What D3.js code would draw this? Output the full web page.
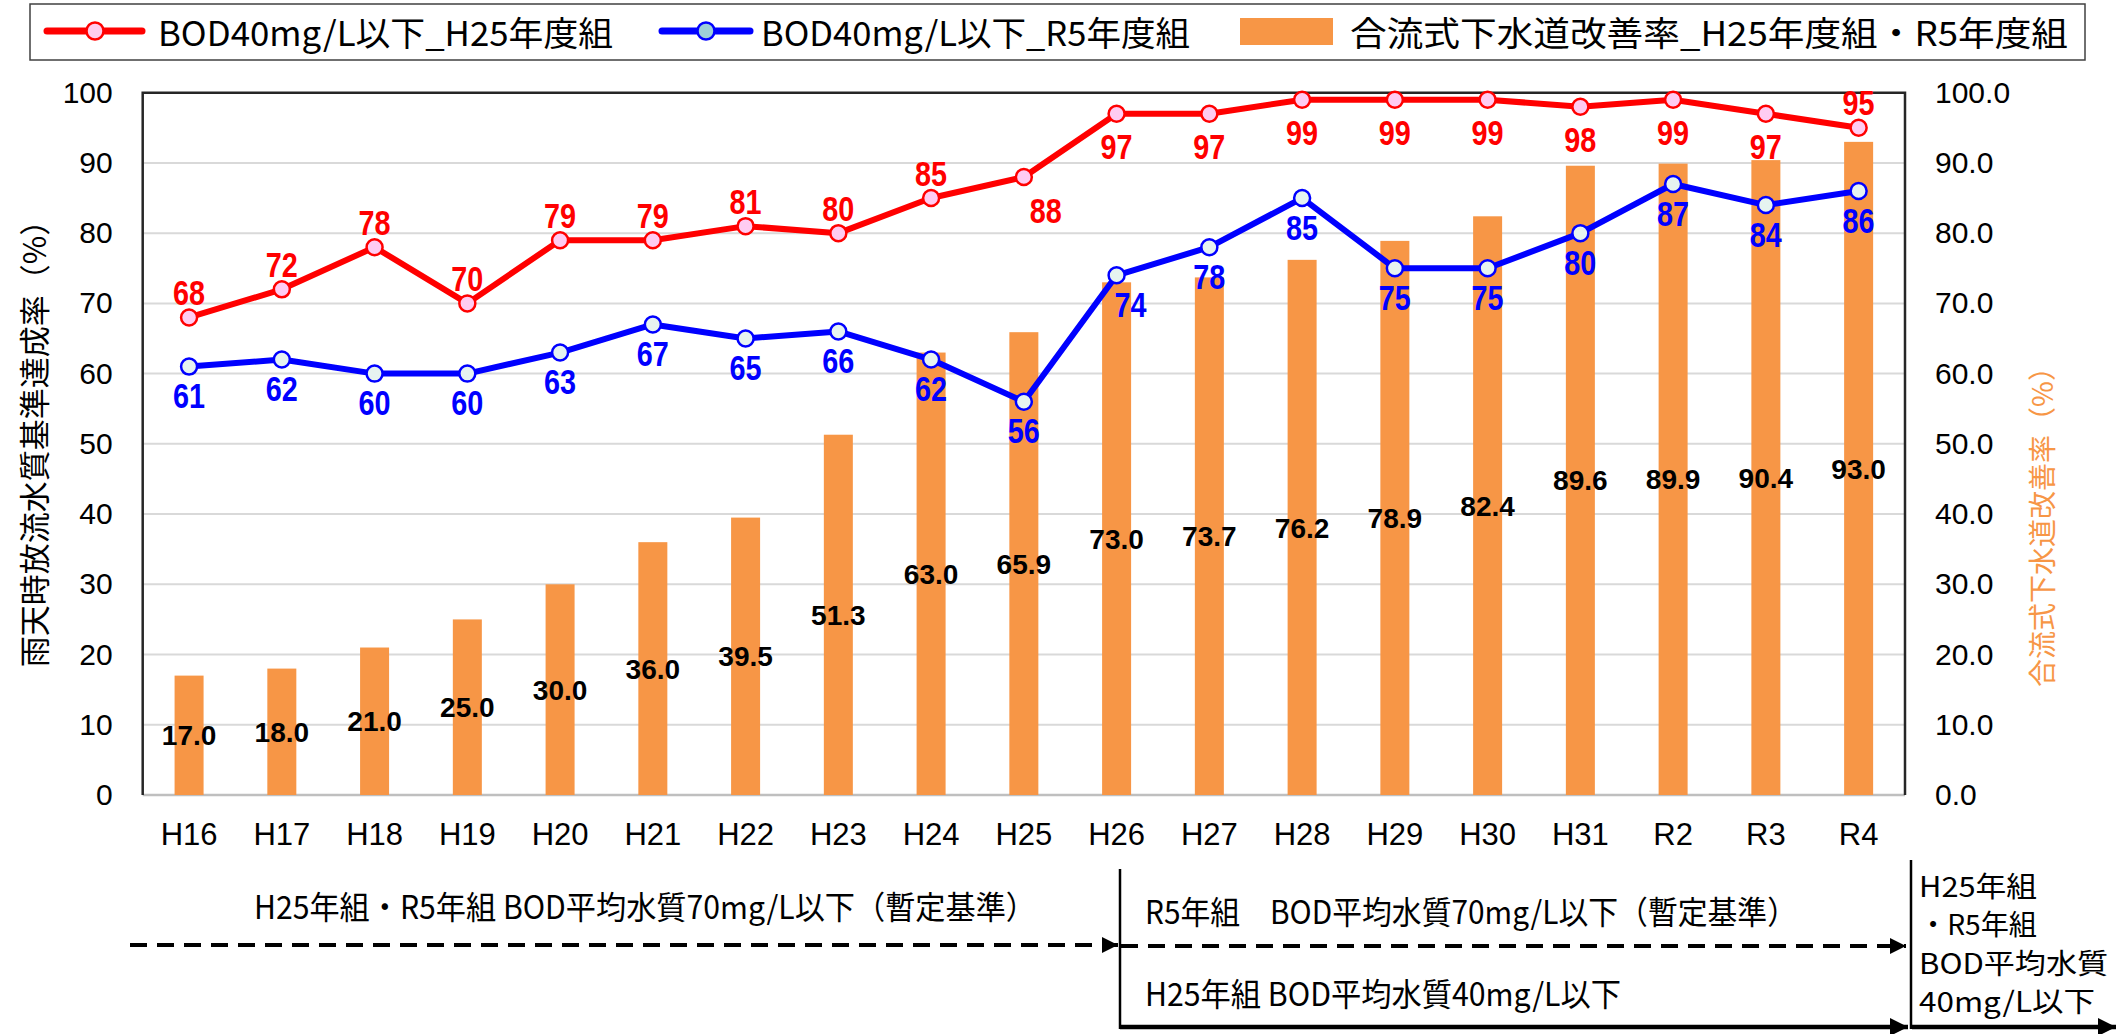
<!DOCTYPE html>
<html><head><meta charset="utf-8">
<script src="https://cdn.jsdelivr.net/npm/d3@7"></script>
<style>body{margin:0;background:#fff}svg{display:block}</style>
</head><body>
<svg id="c" width="2120" height="1034"></svg>
<script>
const categories = ["H16","H17","H18","H19","H20","H21","H22","H23","H24","H25","H26","H27","H28","H29","H30","H31","R2","R3","R4"];
const bodH25 = [68,72,78,70,79,79,81,80,85,88,97,97,99,99,99,98,99,97,95];
const bodR5  = [61,62,60,60,63,67,65,66,62,56,74,78,85,75,75,80,87,84,86];
const improveRate = [17.0,18.0,21.0,25.0,30.0,36.0,39.5,51.3,63.0,65.9,73.0,73.7,76.2,78.9,82.4,89.6,89.9,90.4,93.0];
// label placement: 1 = above, -1 = below
const h25LabelPos = [1,1,1,1,1,1,1,1,1,-1,-1,-1,-1,-1,-1,-1,-1,-1,1];
const leftTicks = [0,10,20,30,40,50,60,70,80,90,100];
const rightTicks = [0,10,20,30,40,50,60,70,80,90,100];
const legendLabels = ["BOD40mg/L以下_H25年度組","BOD40mg/L以下_R5年度組","合流式下水道改善率_H25年度組・R5年度組"];
const leftTitle = "雨天時放流水質基準達成率（%）";
const rightTitle = "合流式下水道改善率（%）";

const svg = d3.select("#c");
const L = 142.7, R = 1905, T = 92.7, B = 795;
const x = d3.scaleBand().domain(categories).range([L, R]);
const yL = d3.scaleLinear().domain([0,100]).range([B, T]);
const yR = d3.scaleLinear().domain([0,100]).range([B, T]);
const sans = "'Liberation Sans', Arial, sans-serif";
const cjk = "'Noto Sans CJK JP', sans-serif";
const ORANGE = "#f79646";

svg.append("rect").attr("width",2120).attr("height",1034).attr("fill","#fff");

// gridlines
svg.append("g").selectAll("line").data(leftTicks.filter(d=>d>0 && d<100)).join("line")
  .attr("x1",L).attr("x2",R).attr("y1",d=>yL(d)).attr("y2",d=>yL(d))
  .attr("stroke","#d9d9d9").attr("stroke-width",2);
svg.append("line").attr("x1",L).attr("x2",R).attr("y1",B).attr("y2",B).attr("stroke","#bfbfbf").attr("stroke-width",2.5);

// bars
const bw = 29;
svg.append("g").selectAll("rect").data(improveRate).join("rect")
  .attr("x",(d,i)=>x(categories[i]) + (x.bandwidth()-bw)/2)
  .attr("width",bw)
  .attr("y",d=>yR(d)).attr("height",d=>B-yR(d))
  .attr("fill",ORANGE);

// frame (top, left, right)
svg.append("path").attr("d",`M${L},${B}V${T}H${R}V${B}`).attr("fill","none").attr("stroke","#262626").attr("stroke-width",2.5);

// bar labels
svg.append("g").selectAll("text").data(improveRate).join("text")
  .attr("x",(d,i)=>x(categories[i])+x.bandwidth()/2)
  .attr("y",d=>yR(d/2)).attr("dy","0.36em")
  .attr("text-anchor","middle").attr("font-family",sans).attr("font-weight","bold")
  .attr("font-size",28).attr("fill","#000")
  .text(d=>d3.format(".1f")(d));

// lines
const cx = (d,i)=>x(categories[i])+x.bandwidth()/2;
function drawSeries(vals, color, fill){
  const line = d3.line().x((d,i)=>cx(d,i)).y(d=>yL(d));
  svg.append("path").datum(vals).attr("d",line).attr("fill","none").attr("stroke",color).attr("stroke-width",6).attr("stroke-linejoin","round");
  svg.append("g").selectAll("circle").data(vals).join("circle")
    .attr("cx",cx).attr("cy",d=>yL(d)).attr("r",8)
    .attr("fill",fill).attr("stroke",color).attr("stroke-width",2.5);
}
drawSeries(bodR5,"#0000ff","#e6f3f0");
drawSeries(bodH25,"#ff0000","#ffccf2");

// line labels (condensed bold)
function condensedLabels(vals, color, xOff, yOff){
  svg.append("g").selectAll("text").data(vals).join("text")
    .attr("x",(d,i)=>cx(d,i) + xOff(i) - 16)
    .attr("y",(d,i)=>yL(d) + yOff(i)).attr("dy","0.36em")
    .attr("font-family",sans).attr("font-weight","bold")
    .attr("font-size",35).attr("fill",color)
    .attr("textLength",32).attr("lengthAdjust","spacingAndGlyphs")
    .text(d=>d);
}
condensedLabels(bodH25,"#ff0000", i=>(i===9?22:0), i=>(h25LabelPos[i]>0 ? -25 : 33));
condensedLabels(bodR5,"#0000ff", i=>(i===10?14:0), i=>29);

// axes
const ga = svg.append("g").attr("transform",`translate(${L},0)`)
  .call(d3.axisLeft(yL).tickValues(leftTicks).tickSize(0).tickPadding(30));
const gr = svg.append("g").attr("transform",`translate(${R},0)`)
  .call(d3.axisRight(yR).tickValues(rightTicks).tickSize(0).tickPadding(30).tickFormat(d3.format(".1f")));
const gb = svg.append("g").attr("transform",`translate(0,${B})`)
  .call(d3.axisBottom(x).tickSize(0).tickPadding(28));
[ga,gr,gb].forEach(g=>{
  g.select(".domain").remove();
  g.selectAll("text").attr("font-family",sans).attr("font-size",30).attr("fill","#000");
});
gb.selectAll("text").attr("font-size",31);

// axis titles
svg.append("text").attr("transform","translate(32,436) rotate(-90)")
  .attr("text-anchor","middle").attr("dominant-baseline","central")
  .attr("font-family",cjk).attr("font-size",31).attr("fill","#000").text(leftTitle);
svg.append("text").attr("transform","translate(2041,520) rotate(-90)")
  .attr("text-anchor","middle").attr("dominant-baseline","central")
  .attr("font-family",cjk).attr("font-size",28).attr("fill",ORANGE).text(rightTitle);

// legend
svg.append("rect").attr("x",30).attr("y",4).attr("width",2055).attr("height",56)
  .attr("fill","#fff").attr("stroke","#404040").attr("stroke-width",1.5);
const lg = svg.append("g");
const ly = 31;
lg.append("line").attr("x1",47).attr("x2",142).attr("y1",ly).attr("y2",ly).attr("stroke","#ff0000").attr("stroke-width",7).attr("stroke-linecap","round");
lg.append("circle").attr("cx",95).attr("cy",ly).attr("r",8.5).attr("fill","#ffccee").attr("stroke","#ff0000").attr("stroke-width",2.5);
lg.append("line").attr("x1",662).attr("x2",750).attr("y1",ly).attr("y2",ly).attr("stroke","#0000ff").attr("stroke-width",7).attr("stroke-linecap","round");
lg.append("circle").attr("cx",706).attr("cy",ly).attr("r",8.5).attr("fill","#9dd0d8").attr("stroke","#0000ff").attr("stroke-width",2.5);
lg.append("rect").attr("x",1240).attr("y",18).attr("width",93).attr("height",27).attr("fill",ORANGE);
const legX = [158,761,1350], legW = [455,429,718];
lg.selectAll("text").data(legendLabels).join("text")
  .attr("x",(d,i)=>legX[i]).attr("y",ly).attr("dominant-baseline","central")
  .attr("font-family",cjk).attr("font-size",34).attr("fill","#000")
  .attr("textLength",(d,i)=>legW[i]).attr("lengthAdjust","spacingAndGlyphs").text(d=>d);

// bottom annotations
const defs = svg.append("defs");
defs.append("marker").attr("id","ah").attr("viewBox","0 0 10 10").attr("refX",10).attr("refY",5)
  .attr("markerWidth",4).attr("markerHeight",4).attr("orient","auto").attr("markerUnits","strokeWidth")
  .append("path").attr("d","M0,0L10,5L0,10Z").attr("fill","#000");
const ann = svg.append("g").attr("stroke","#000");
ann.append("line").attr("x1",130).attr("x2",1118).attr("y1",945).attr("y2",945).attr("stroke-width",4).attr("stroke-dasharray","17,10").attr("marker-end","url(#ah)");
ann.append("line").attr("x1",1121).attr("x2",1906).attr("y1",946).attr("y2",946).attr("stroke-width",4).attr("stroke-dasharray","17,10").attr("marker-end","url(#ah)");
ann.append("line").attr("x1",1120).attr("x2",1908).attr("y1",1027).attr("y2",1027).attr("stroke-width",4.5).attr("marker-end","url(#ah)");
ann.append("line").attr("x1",1912).attr("x2",2116).attr("y1",1027).attr("y2",1027).attr("stroke-width",4.5).attr("marker-end","url(#ah)");
ann.append("line").attr("x1",1120).attr("x2",1120).attr("y1",869).attr("y2",1029).attr("stroke-width",2.5);
ann.append("line").attr("x1",1911).attr("x2",1911).attr("y1",860).attr("y2",1029).attr("stroke-width",2.5);

const annTexts = [
  {t:"H25年組・R5年組 BOD平均水質70mg/L以下（暫定基準）", x:254, y:905, w:782, s:32},
  {t:"R5年組　BOD平均水質70mg/L以下（暫定基準）", x:1145, y:910, w:652, s:32},
  {t:"H25年組 BOD平均水質40mg/L以下", x:1145, y:992, w:476, s:32},
  {t:"H25年組", x:1919, y:885, w:118, s:28},
  {t:"・R5年組", x:1919, y:923, w:118, s:28},
  {t:"BOD平均水質", x:1919, y:962, w:189, s:28},
  {t:"40mg/L以下", x:1919, y:1000, w:176, s:28}
];
svg.append("g").selectAll("text").data(annTexts).join("text")
  .attr("x",d=>d.x).attr("y",d=>d.y).attr("dominant-baseline","central")
  .attr("font-family",cjk).attr("font-size",d=>d.s).attr("fill","#000")
  .attr("textLength",d=>d.w).attr("lengthAdjust","spacingAndGlyphs").text(d=>d.t);
</script>
</body></html>
